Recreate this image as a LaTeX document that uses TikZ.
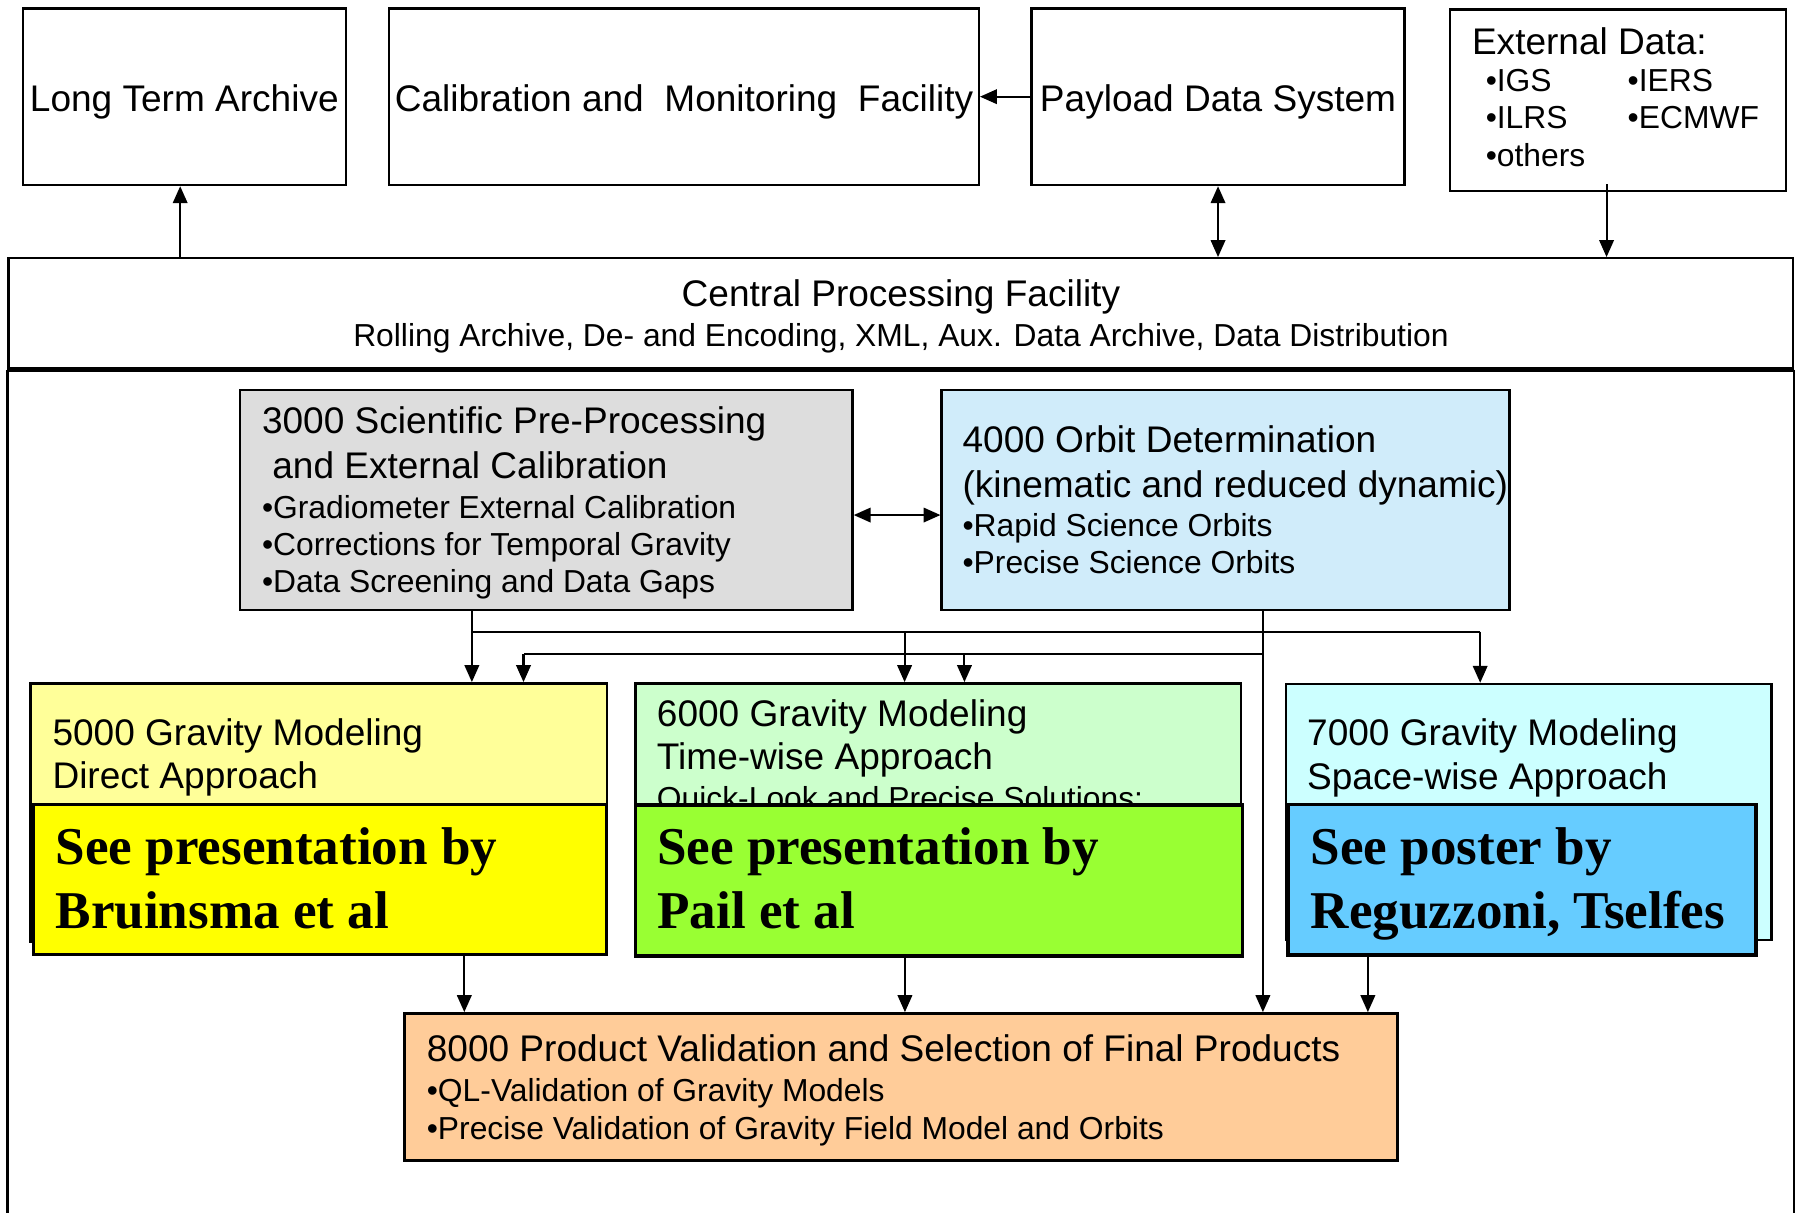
\documentclass[tikz,border=0pt]{standalone}
\usepackage{fontspec}
\setmainfont{Liberation Sans}
\newfontfamily\seeserif{Liberation Serif}
\usetikzlibrary{arrows.meta,fit}

\newcommand\bigtxt{\fontsize{9.2}{11}\selectfont}
\newcommand\smalltxt{\fontsize{7.9}{9.5}\selectfont}
\newcommand\seetxt{\seeserif\bfseries\fontsize{13.2}{16}\selectfont}

\definecolor{gray3}{HTML}{DDDDDD}
\definecolor{blue4}{HTML}{D0ECFA}
\definecolor{yel5}{HTML}{FFFF99}
\definecolor{grn6}{HTML}{CCFFCC}
\definecolor{cyan7}{HTML}{CCFFFF}
\definecolor{peach8}{HTML}{FFCC99}
\definecolor{seeyel}{HTML}{FFFF00}
\definecolor{seegrn}{HTML}{99FF33}
\definecolor{seeblue}{HTML}{66CCFF}

\tikzset{
  box/.style={draw, line width=0.6pt, inner sep=0pt},
  seebox/.style={box, line width=0.8pt},
  txt/.style={anchor=base west, inner sep=0pt, font=\bigtxt},
  mid/.style={anchor=base, inner sep=0pt, font=\bigtxt},
  sml/.style={txt, font=\smalltxt},
  see/.style={txt, font=\seetxt},
}

\begin{document}
\begin{tikzpicture}[x=0.01cm, y=-0.01cm, >={Triangle[length=4.2pt,width=3.6pt]}, line width=0.5pt]
\useasboundingbox (0,0) rectangle (1568,1060);

% top row
\node[box, fit={(20,7.3) (302,161.6)}] (lta) {};
\node[box, fit={(340,7.3) (855,161.6)}] (cmf) {};
\node[box, fit={(901,7.3) (1227,161.6)}] (pds) {};
\node[mid] (ltat) at ([yshift=-0.131cm]lta.center) {Long Term Archive};
\node[mid] (cmft) at ([yshift=-0.131cm]cmf.center) {Calibration and\ \ Monitoring\ \ Facility};
\node[mid] (pdst) at ([yshift=-0.131cm]pds.center) {Payload Data System};
\node[box, fit={(1266.4,8.2) (1560,166.6)}] (ext) {};
\node[txt] (extt) at (1285,48) {External Data:};
\foreach \t/\x/\y [count=\i] in {IGS/1297/80, IERS/1421/80, ILRS/1297/112, ECMWF/1421/112, others/1297/145.6}
  \node[sml] (ext-\i) at (\x,\y) {•\t};

% central processing facility
\node[box, fit={(7.5,225.6) (1566.3,321.8)}] (cpf) {};
\node[mid] (cpft) at (787,268) {Central Processing Facility};
\node[mid, font=\smalltxt] (cpfs) at (787,303) {Rolling Archive, De- and Encoding, XML, Aux. Data Archive, Data Distribution};
\coordinate (pagebot) at (0,1060);
\draw[line width=1.1pt] (cpf.south west) -- (cpf.south east);
\draw[line width=0.6pt] (cpf.south west) -- (cpf.south west |- pagebot);
\draw[line width=0.6pt] (cpf.south east) -- (cpf.south east |- pagebot);

% processing steps
\node[box, fill=gray3, fit={(209.6,340.7) (744.7,532.9)}] (b3000) {};
\node[txt] (t3000a) at (228,378.5) {3000 Scientific Pre-Processing};
\node[txt] (t3000b) at (237,417.6) {and External Calibration};
\foreach \t [count=\i] in {Gradiometer External Calibration, Corrections for Temporal Gravity, Data Screening and Data Gaps}
  \node[sml] (t3000-\i) at (228,{452.6+32.7*(\i-1)}) {•\t};

\node[box, fill=blue4, fit={(822.6,340.7) (1318.7,532.9)}] (b4000) {};
\node[txt] (t4000a) at (840,395.4) {4000 Orbit Determination};
\node[txt] (t4000b) at (840,434.7) {(kinematic and reduced dynamic)};
\foreach \t [count=\i] in {Rapid Science Orbits, Precise Science Orbits}
  \node[sml] (t4000-\i) at (840,{468.8+32.6*(\i-1)}) {•\t};

\node[box, fill=yel5, fit={(26.6,596.9) (530,822.6)}] (b5000) {};
\node[txt] (t5000a) at (45,650.8) {5000 Gravity Modeling};
\node[txt] (t5000b) at (45,688.6) {Direct Approach};

\node[box, fill=grn6, fit={(555.1,596.9) (1084.3,822.6)}] (b6000) {};
\node[txt] (t6000a) at (573,634.8) {6000 Gravity Modeling};
\node[txt] (t6000b) at (573,672.6) {Time-wise Approach};
\node[sml] (t6000c) at (573,707) {Quick-Look and Precise Solutions:};

\node[box, fill=cyan7, fit={(1123.2,597.5) (1547.6,821.1)}] (b7000) {};
\node[txt] (t7000a) at (1141,650.8) {7000 Gravity Modeling};
\node[txt] (t7000b) at (1141,690) {Space-wise Approach};

\node[box, fill=peach8, fit={(353.5,885.2) (1220.6,1013.9)}] (b8000) {};
\node[txt] (t8000a) at (372,927.4) {8000 Product Validation and Selection of Final Products};
\foreach \t [count=\i] in {QL-Validation of Gravity Models, Precise Validation of Gravity Field Model and Orbits}
  \node[sml] (t8000-\i) at (372,{962.3+32.9*(\i-1)}) {•\t};

% connectors
\coordinate (ltain) at ([xshift=-0.036cm]lta.south);
\coordinate (extout) at (1403.4,161);
\draw[->] (pds.west) -- (cmf.east);
\draw[->] (ltain |- cpf.north) -- (ltain);
\draw[<->] (pds.south) -- (pds.south |- cpf.north);
\draw[->] (extout) -- (extout |- cpf.north);
\draw[<->] ([yshift=-0.131cm]b3000.east) -- ([yshift=-0.131cm]b4000.west);

\coordinate (u5) at (412.2,551.8);
\coordinate (u6) at (790.2,551.8);
\coordinate (u7) at (1293,551.8);
\coordinate (l5) at (457.3,571.3);
\coordinate (l6) at (842.5,571.3);
\coordinate (l4) at (1103.2,571.3);
\draw (u5 |- b3000.south) -- (u5) -- (u7);
\draw (l4) -- (l5);
\draw[->] (l4 |- b4000.south) -- (l4 |- b8000.north);
\foreach \c/\b in {u5/b5000, u6/b6000, u7/b7000, l5/b5000, l6/b6000}
  \draw[->] (\c) -- (\c |- \b.north);

\coordinate (d5) at (405.6,822.6);
\coordinate (d6) at (790.5,822.6);
\coordinate (d7) at (1194.9,821.1);
\foreach \c in {d5,d6,d7}
  \draw[->] (\c) -- (\c |- b8000.north);

% see presentation boxes
\node[seebox, fill=seeyel, fit={(29.1,702.6) (530,833.6)}] (seeb) {};
\node[see] (seeb1) at (47.7,755.6) {See presentation by};
\node[see] (seeb2) at (47.7,810.9) {Bruinsma et al};
\node[seebox, fill=seegrn, fit={(555.1,703.2) (1085.4,835)}] (seep) {};
\node[see] (seep1) at (573.2,755.6) {See presentation by};
\node[see] (seep2) at (573.2,810.9) {Pail et al};
\node[seebox, fill=seeblue, fit={(1125.1,702.6) (1533.9,834.2)}] (seer) {};
\node[see] (seer1) at (1144.2,755.6) {See poster by};
\node[see] (seer2) at (1144.2,810.9) {Reguzzoni, Tselfes};
\end{tikzpicture}
\end{document}
